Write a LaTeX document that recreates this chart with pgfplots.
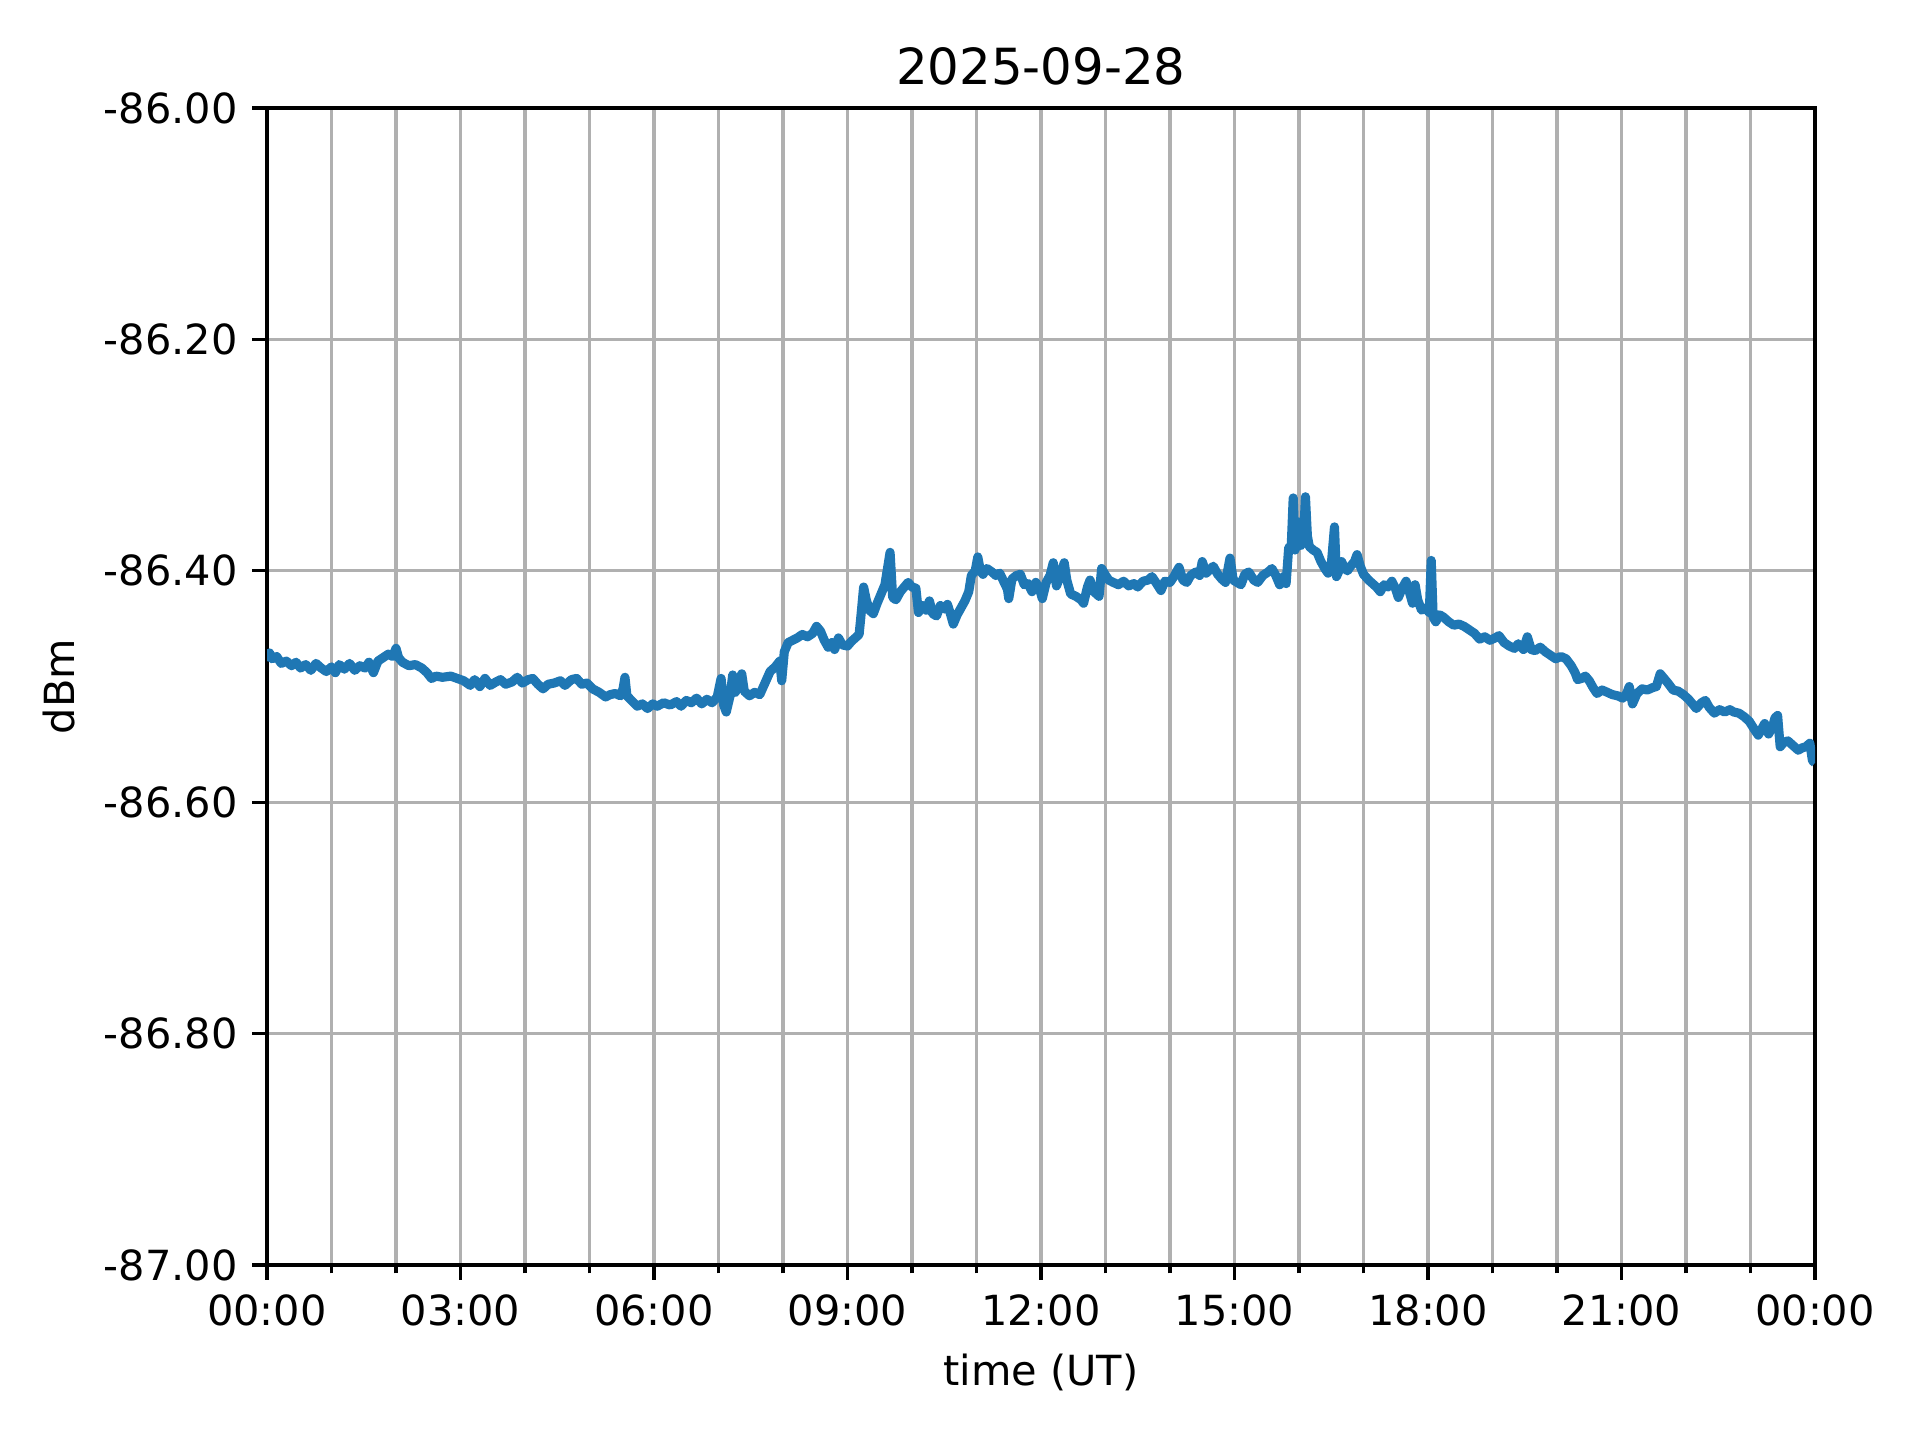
\documentclass[border=0pt]{standalone}
\usepackage{pgfplots}
\pgfplotsset{compat=1.18}
\usepackage{fontspec}
\setmainfont{DejaVu Sans}
\definecolor{mplBlue}{HTML}{1F77B4}
\definecolor{gridGray}{HTML}{B0B0B0}

\begin{document}
\begin{tikzpicture}
\begin{axis}[
    scale only axis, width=5.16in, height=3.857in,
    xmin=0, xmax=24, ymin=-87, ymax=-86,
    xtick={0,3,...,24},
    xticklabels={00:00,03:00,06:00,09:00,12:00,15:00,18:00,21:00,00:00},
    minor xtick={1,2,4,5,7,8,10,11,13,14,16,17,19,20,22,23},
    ytick={-87,-86.8,-86.6,-86.4,-86.2,-86},
    yticklabels={-87.00,-86.80,-86.60,-86.40,-86.20,-86.00},
    tick pos=left, tick align=outside,
    major tick length=3.5pt, minor tick length=2pt,
    every tick/.style={black, line width=0.8pt},
    axis line style={line width=0.8pt},
    xmajorgrids, xminorgrids, ymajorgrids,
    grid style={gridGray, line width=0.8pt},
    minor grid style={gridGray, line width=0.8pt},
    tick label style={font=\fontsize{10}{12}\selectfont},
    label style={font=\fontsize{10}{12}\selectfont},
    title style={font=\fontsize{12}{14}\selectfont, yshift=-4pt},
    title={2025-09-28}, xlabel={time (UT)}, ylabel={dBm},
]
\addplot[mplBlue, line width=2.2pt, line join=round] coordinates {
(0.00,-86.478)(0.04,-86.471)(0.08,-86.476)(0.15,-86.474)(0.22,-86.480)(0.30,-86.478)
(0.38,-86.482)(0.45,-86.479)(0.52,-86.484)(0.60,-86.481)(0.68,-86.486)(0.76,-86.480)
(0.84,-86.484)(0.92,-86.487)(1.00,-86.483)(1.06,-86.488)(1.12,-86.481)(1.20,-86.485)
(1.28,-86.480)(1.36,-86.486)(1.44,-86.482)(1.52,-86.484)(1.58,-86.479)(1.65,-86.488)
(1.72,-86.478)(1.80,-86.475)(1.88,-86.472)(1.95,-86.474)(2.00,-86.467)(2.04,-86.475)
(2.10,-86.479)(2.20,-86.482)(2.30,-86.481)(2.40,-86.484)(2.48,-86.488)(2.55,-86.493)
(2.62,-86.491)(2.72,-86.492)(2.85,-86.491)(2.95,-86.493)(3.05,-86.495)(3.15,-86.499)
(3.22,-86.494)(3.30,-86.500)(3.38,-86.493)(3.46,-86.499)(3.55,-86.496)(3.62,-86.494)
(3.70,-86.498)(3.80,-86.496)(3.88,-86.492)(3.96,-86.497)(4.05,-86.494)(4.12,-86.493)
(4.20,-86.498)(4.28,-86.502)(4.36,-86.498)(4.45,-86.497)(4.55,-86.495)(4.62,-86.499)
(4.72,-86.494)(4.80,-86.493)(4.88,-86.498)(4.96,-86.497)(5.05,-86.502)(5.15,-86.505)
(5.25,-86.509)(5.32,-86.507)(5.40,-86.506)(5.48,-86.508)(5.52,-86.502)(5.55,-86.492)
(5.58,-86.508)(5.65,-86.512)(5.74,-86.517)(5.82,-86.515)(5.90,-86.519)(5.98,-86.515)
(6.05,-86.517)(6.15,-86.514)(6.25,-86.516)(6.35,-86.513)(6.42,-86.517)(6.50,-86.512)
(6.58,-86.514)(6.66,-86.510)(6.74,-86.515)(6.82,-86.511)(6.90,-86.514)(6.98,-86.509)
(7.04,-86.493)(7.08,-86.516)(7.12,-86.522)(7.18,-86.508)(7.22,-86.490)(7.26,-86.505)
(7.30,-86.500)(7.36,-86.489)(7.40,-86.504)(7.48,-86.508)(7.56,-86.505)(7.64,-86.507)
(7.72,-86.497)(7.80,-86.487)(7.88,-86.483)(7.95,-86.478)(7.98,-86.495)(8.02,-86.470)
(8.08,-86.462)(8.15,-86.460)(8.22,-86.458)(8.30,-86.455)(8.38,-86.457)(8.46,-86.454)
(8.52,-86.448)(8.58,-86.452)(8.64,-86.460)(8.70,-86.466)(8.76,-86.462)(8.80,-86.468)
(8.86,-86.458)(8.92,-86.464)(9.00,-86.465)(9.06,-86.461)(9.12,-86.458)(9.18,-86.455)
(9.21,-86.438)(9.25,-86.414)(9.29,-86.425)(9.34,-86.434)(9.40,-86.437)(9.46,-86.428)
(9.52,-86.420)(9.58,-86.412)(9.62,-86.398)(9.66,-86.384)(9.70,-86.423)(9.75,-86.425)
(9.82,-86.418)(9.88,-86.414)(9.94,-86.410)(10.00,-86.414)(10.06,-86.415)(10.10,-86.436)
(10.16,-86.430)(10.22,-86.434)(10.27,-86.426)(10.32,-86.437)(10.38,-86.439)(10.44,-86.430)
(10.50,-86.433)(10.55,-86.429)(10.60,-86.438)(10.64,-86.446)(10.70,-86.438)(10.76,-86.432)
(10.82,-86.426)(10.88,-86.418)(10.92,-86.404)(10.98,-86.400)(11.02,-86.388)(11.06,-86.400)
(11.10,-86.403)(11.16,-86.398)(11.24,-86.401)(11.30,-86.404)(11.36,-86.402)(11.42,-86.409)
(11.48,-86.416)(11.50,-86.424)(11.55,-86.407)(11.62,-86.404)(11.68,-86.403)(11.74,-86.412)
(11.80,-86.411)(11.86,-86.418)(11.92,-86.410)(11.98,-86.416)(12.02,-86.424)(12.08,-86.410)
(12.14,-86.404)(12.19,-86.393)(12.24,-86.413)(12.30,-86.404)(12.36,-86.393)(12.40,-86.408)
(12.46,-86.420)(12.54,-86.422)(12.62,-86.425)(12.66,-86.428)(12.72,-86.414)(12.76,-86.408)
(12.82,-86.418)(12.90,-86.422)(12.94,-86.398)(12.98,-86.402)(13.05,-86.408)(13.12,-86.410)
(13.20,-86.412)(13.28,-86.409)(13.36,-86.413)(13.44,-86.411)(13.50,-86.414)(13.58,-86.409)
(13.66,-86.408)(13.72,-86.405)(13.78,-86.410)(13.86,-86.417)(13.92,-86.409)(14.00,-86.410)
(14.06,-86.405)(14.14,-86.397)(14.20,-86.408)(14.26,-86.410)(14.32,-86.404)(14.40,-86.401)
(14.46,-86.404)(14.50,-86.392)(14.56,-86.402)(14.62,-86.399)(14.67,-86.396)(14.74,-86.403)
(14.80,-86.407)(14.86,-86.410)(14.93,-86.389)(14.98,-86.408)(15.04,-86.410)(15.10,-86.412)
(15.16,-86.403)(15.22,-86.401)(15.30,-86.408)(15.36,-86.410)(15.44,-86.404)(15.52,-86.401)
(15.58,-86.398)(15.64,-86.404)(15.70,-86.412)(15.76,-86.405)(15.80,-86.411)(15.84,-86.380)
(15.88,-86.378)(15.91,-86.337)(15.94,-86.382)(15.97,-86.370)(16.00,-86.358)(16.03,-86.378)
(16.07,-86.372)(16.10,-86.336)(16.13,-86.370)(16.16,-86.379)(16.22,-86.382)(16.28,-86.384)
(16.34,-86.392)(16.40,-86.398)(16.45,-86.402)(16.50,-86.395)(16.55,-86.362)(16.58,-86.405)
(16.62,-86.400)(16.66,-86.392)(16.70,-86.397)(16.75,-86.400)(16.80,-86.396)(16.86,-86.392)
(16.90,-86.386)(16.95,-86.396)(17.00,-86.403)(17.08,-86.408)(17.14,-86.411)(17.20,-86.414)
(17.26,-86.418)(17.32,-86.412)(17.38,-86.414)(17.44,-86.409)(17.50,-86.416)(17.54,-86.423)
(17.60,-86.415)(17.66,-86.409)(17.72,-86.420)(17.76,-86.428)(17.80,-86.412)(17.84,-86.425)
(17.90,-86.434)(17.96,-86.432)(18.02,-86.436)(18.05,-86.391)(18.08,-86.440)(18.12,-86.444)
(18.18,-86.438)(18.24,-86.440)(18.32,-86.444)(18.40,-86.447)(18.48,-86.446)(18.56,-86.448)
(18.64,-86.451)(18.72,-86.454)(18.80,-86.459)(18.88,-86.457)(18.96,-86.460)(19.04,-86.458)
(19.10,-86.456)(19.18,-86.462)(19.26,-86.465)(19.34,-86.467)(19.40,-86.463)(19.48,-86.468)
(19.54,-86.457)(19.60,-86.468)(19.66,-86.469)(19.74,-86.466)(19.82,-86.470)(19.90,-86.473)
(19.98,-86.476)(20.06,-86.474)(20.14,-86.476)(20.22,-86.482)(20.28,-86.488)(20.32,-86.494)
(20.38,-86.493)(20.44,-86.491)(20.50,-86.495)(20.56,-86.501)(20.62,-86.506)(20.70,-86.503)
(20.78,-86.505)(20.86,-86.507)(20.94,-86.508)(21.02,-86.510)(21.08,-86.506)(21.12,-86.500)
(21.17,-86.515)(21.24,-86.506)(21.32,-86.502)(21.40,-86.503)(21.48,-86.501)(21.54,-86.500)
(21.60,-86.489)(21.66,-86.493)(21.72,-86.497)(21.80,-86.503)(21.88,-86.504)(21.96,-86.507)
(22.04,-86.511)(22.10,-86.515)(22.16,-86.519)(22.24,-86.514)(22.30,-86.512)(22.36,-86.518)
(22.44,-86.523)(22.52,-86.520)(22.60,-86.522)(22.68,-86.520)(22.74,-86.522)(22.82,-86.523)
(22.90,-86.526)(22.98,-86.530)(23.06,-86.537)(23.12,-86.542)(23.18,-86.536)(23.22,-86.532)
(23.28,-86.541)(23.34,-86.535)(23.38,-86.527)(23.42,-86.525)(23.46,-86.552)(23.52,-86.548)
(23.58,-86.547)(23.66,-86.551)(23.74,-86.555)(23.80,-86.553)(23.86,-86.552)(23.92,-86.549)
(23.96,-86.564)(24.00,-86.566)
};
\coordinate (sw) at (rel axis cs:0,0);
\coordinate (ne) at (rel axis cs:1,1);
\end{axis}
\path[use as bounding box] ([xshift=-0.89in,yshift=-0.583in]sw) rectangle ([xshift=0.35in,yshift=0.36in]ne);
\end{tikzpicture}
\end{document}
